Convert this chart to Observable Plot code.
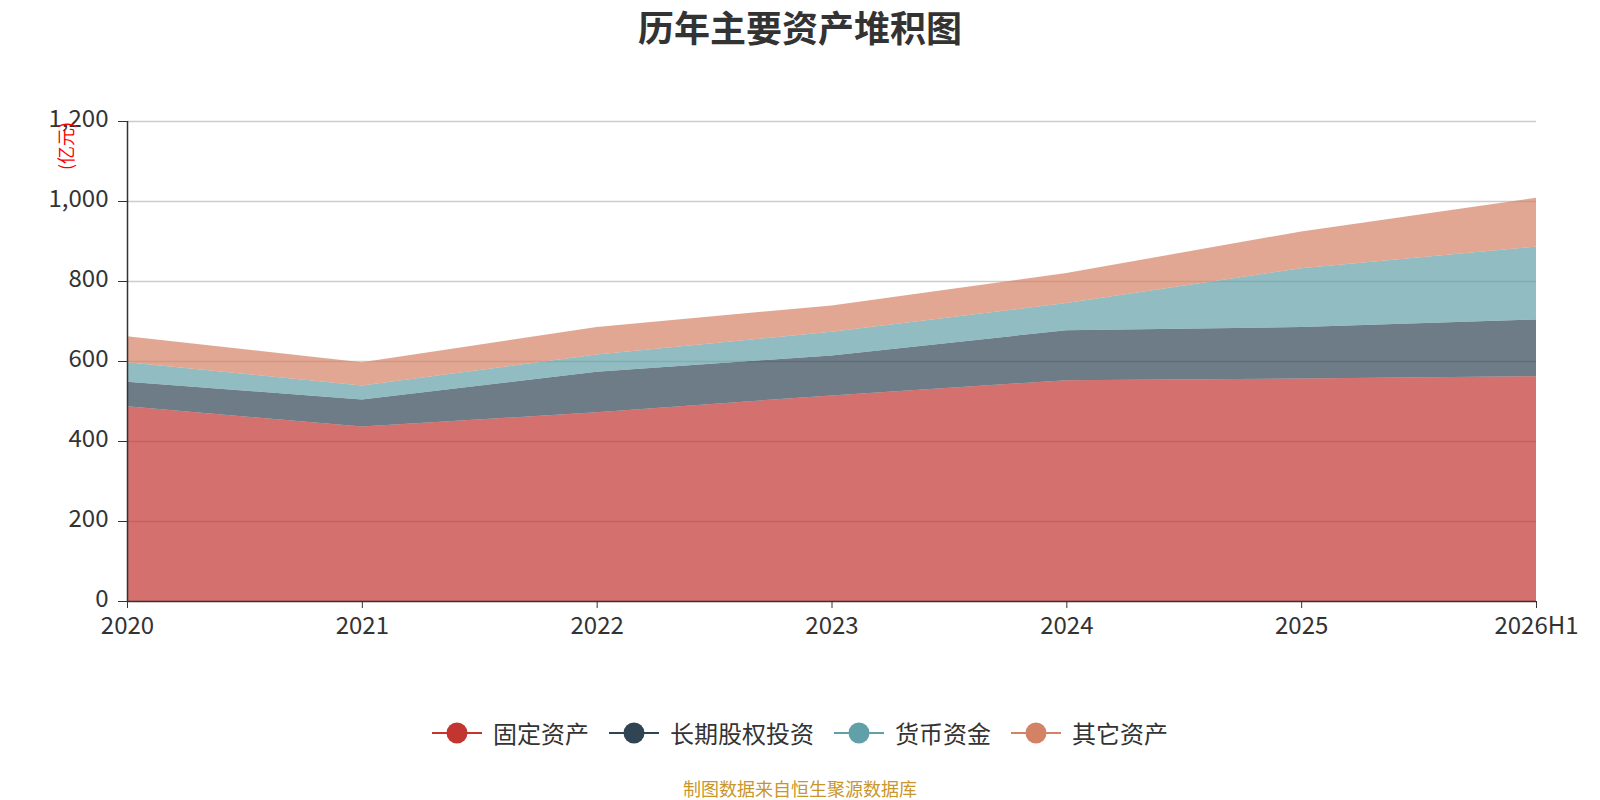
<!DOCTYPE html>
<html>
<head>
<meta charset="utf-8">
<script src="https://cdn.jsdelivr.net/npm/d3@7"></script>
<script src="https://cdn.jsdelivr.net/npm/@observablehq/plot@0.6"></script>
<style>
  html, body { margin: 0; padding: 0; background: #fff; }
  body { width: 1600px; height: 800px; position: relative; overflow: hidden; font-family: "Noto Sans CJK SC", "Noto Sans", sans-serif; }
  #chart { position: absolute; left: 0; top: 0; }
  .title { position: absolute; left: 0; width: 1600px; top: 3px; text-align: center; font-size: 36px; font-weight: bold; color: #333; line-height: 46px; }
  .ylabel { position: absolute; left: 65px; top: 146px; transform: translate(-50%, -50%) rotate(-90deg); color: #ff0000; font-size: 18px; white-space: nowrap; }
  .legend { position: absolute; left: 0; width: 1600px; top: 716px; display: flex; justify-content: center; align-items: center; gap: 20px; }
  .legend .item { display: flex; align-items: center; gap: 11px; font-size: 24px; color: #333; line-height: 34px; }
  .footer { position: absolute; left: 0; width: 1600px; top: 776px; text-align: center; font-size: 18px; color: #c9962c; line-height: 24px; }
</style>
</head>
<body>
<div id="chart"></div>
<div class="title">历年主要资产堆积图</div>
<div class="ylabel">(亿元)</div>
<div class="legend" id="legend"></div>
<div class="footer">制图数据来自恒生聚源数据库</div>
<script>
const years = ["2020", "2021", "2022", "2023", "2024", "2025", "2026H1"];
const seriesNames = ["固定资产", "长期股权投资", "货币资金", "其它资产"];
const fixedAssets = [487, 436, 472, 514, 552, 556, 562];
const equityInvest = [61, 68, 101, 100, 125, 129, 142];
const cashFunds = [49, 35, 43, 59, 68, 147, 182];
const otherAssets = [65, 58, 69, 66, 75, 92, 122];
const colors = ["#c23531", "#2f4554", "#61a0a8", "#d48265"];
const yTicks = [0, 200, 400, 600, 800, 1000, 1200];

const seriesValues = [fixedAssets, equityInvest, cashFunds, otherAssets];
const data = [];
seriesNames.forEach((s, si) => {
  years.forEach((y, i) => data.push({ idx: i, year: y, series: s, value: seriesValues[si][i] }));
});
const xIdx = years.map((_, i) => i);
const fmt = d3.format(",");

const chart = Plot.plot({
  width: 1600,
  height: 800,
  marginTop: 121,
  marginBottom: 199,
  marginLeft: 127,
  marginRight: 64,
  style: { fontFamily: "'Noto Sans CJK SC', 'Noto Sans', sans-serif", background: "transparent" },
  x: { domain: [0, years.length - 1], axis: null },
  y: { domain: [0, 1200], axis: null },
  color: { domain: seriesNames, range: colors },
  marks: [
    Plot.ruleY(yTicks.filter(d => d > 0), { stroke: "#cccccc", strokeWidth: 1.5 }),
    Plot.areaY(data, { x: "idx", y: "value", fill: "series", z: "series", fillOpacity: 0.7, curve: "linear" }),
    Plot.ruleX([0], { stroke: "#333", strokeWidth: 1.5 }),
    Plot.ruleY([0], { stroke: "#333", strokeWidth: 1.5 }),
    Plot.axisY(yTicks, { tickFormat: () => "", tickSize: 9, color: "#333", label: null }),
    Plot.text(yTicks, { x: () => 0, y: d => d, text: d => fmt(d), textAnchor: "end", dx: -19, dy: -2, fontSize: 24, fill: "#333" }),
    Plot.axisX(xIdx, { tickFormat: i => years[i], tickSize: 7, tickPadding: 8, fontSize: 24, color: "#333", label: null })
  ]
});
document.getElementById("chart").appendChild(chart);

const legend = document.getElementById("legend");
seriesNames.forEach((s, i) => {
  const item = document.createElement("div");
  item.className = "item";
  item.innerHTML = `<svg width="50" height="24"><line x1="0" y1="12" x2="50" y2="12" stroke="${colors[i]}" stroke-width="2"/><circle cx="25" cy="12" r="10.5" fill="${colors[i]}"/></svg><span>${s}</span>`;
  legend.appendChild(item);
});
</script>
</body>
</html>
